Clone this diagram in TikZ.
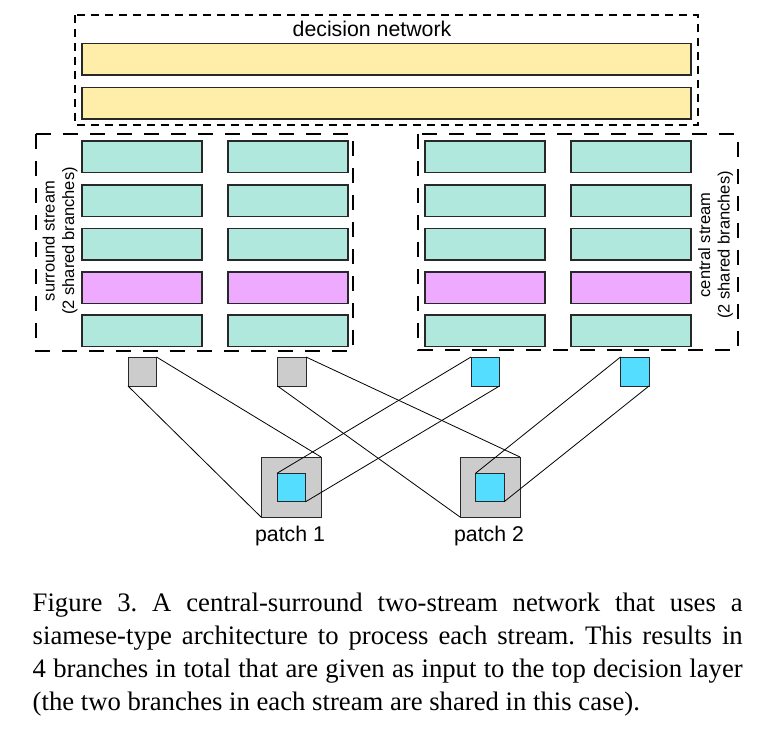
\documentclass[tikz,border=0pt]{standalone}
\usepackage{fontspec}
\setmainfont{Liberation Serif}
\newfontfamily\lsans{Liberation Sans}
\definecolor{ycol}{RGB}{255,238,170}
\definecolor{tcol}{RGB}{176,232,222}
\definecolor{pcol}{RGB}{238,170,255}
\definecolor{gcol}{RGB}{204,204,204}
\definecolor{ccol}{RGB}{85,221,255}
\definecolor{edge}{RGB}{40,40,40}
\begin{document}
\frenchspacing
\begin{tikzpicture}[x=1pt,y=-1pt,
  barbox/.style={draw=edge,line width=1.1pt,inner sep=0pt,outer sep=0pt,anchor=north west,minimum height=31.5pt},
  sqbox/.style={draw=edge,line width=1pt,inner sep=0pt,outer sep=0pt,anchor=north west},
  decbox/.style={draw=black,line width=1.2pt,dash pattern=on 8pt off 6pt},
  streambox/.style={draw=black,line width=2pt,dash pattern=on 15pt off 12pt},
  conn/.style={draw=black,line width=0.8pt},
  sanslabel/.style={font=\lsans\fontsize{21.3}{25}\selectfont,inner sep=0pt},
  sidelabel/.style={font=\lsans\fontsize{16.5}{19.5}\selectfont,rotate=90,align=center,inner sep=0pt},
  capline/.style={font=\fontsize{26.7}{33}\selectfont,inner sep=0pt,anchor=base west}]
\useasboundingbox (0,0) rectangle (774,739);
% decision network
\draw[decbox] (75,15) rectangle (698,125);
\node[sanslabel,anchor=base] (dl) at (372,36) {decision network};
\node[barbox,fill=ycol,minimum width=609pt] (d1) at (82,43.5) {};
\node[barbox,fill=ycol,minimum width=609pt] (d2) at (82,87.5) {};
% streams
\draw[streambox] (36,134) rectangle (353,351);
\draw[streambox] (418,134) rectangle (738,350);
\foreach \c/\x in {a/82,b/228,c/425,d/571}{
  \foreach \r/\y in {1/141,2/185,3/228.5,4/272,5/315}{
    \ifnum\r=4
      \node[barbox,fill=pcol,minimum width=120pt] (\c\r) at (\x,\y) {};
    \else
      \node[barbox,fill=tcol,minimum width=120pt] (\c\r) at (\x,\y) {};
    \fi
  }
}
\node[sidelabel] (sl) at (60,241) {surround stream\\(2 shared branches)};
\node[sidelabel] (cl) at (715.5,245) {central stream\\(2 shared branches)};
% input squares
\node[sqbox,fill=gcol,minimum width=28.5pt,minimum height=29pt] (g1) at (128,357) {};
\node[sqbox,fill=gcol,minimum width=28.5pt,minimum height=29pt] (g2) at (277.5,357) {};
\node[sqbox,fill=ccol,minimum width=28.5pt,minimum height=29pt] (c1) at (471,357) {};
\node[sqbox,fill=ccol,minimum width=28.5pt,minimum height=29pt] (c2) at (620.5,357) {};
% patches
\node[sqbox,fill=gcol,minimum width=60pt,minimum height=60pt] (p1) at (261,457) {};
\node[sqbox,fill=ccol,minimum width=28.5pt,minimum height=28.5pt] (i1) at (277,473.3) {};
\node[sqbox,fill=gcol,minimum width=60pt,minimum height=60pt] (p2) at (460,457) {};
\node[sqbox,fill=ccol,minimum width=28.5pt,minimum height=28.5pt] (i2) at (475.5,473.3) {};
\node[sanslabel,anchor=base] (pl1) at (290,541.7) {patch 1};
\node[sanslabel,anchor=base] (pl2) at (489,541.7) {patch 2};
% connectors
\draw[conn] (g1.north east) -- (p1.north east);
\draw[conn] (g1.south west) -- (p1.south west);
\draw[conn] (g2.north east) -- (p2.north east);
\draw[conn] (g2.south west) -- (p2.south west);
\draw[conn] (c1.north west) -- (i1.north west);
\draw[conn] (c1.south east) -- (i1.south east);
\draw[conn] (c2.north west) -- (i2.north west);
\draw[conn] (c2.south east) -- (i2.south east);
% caption
\node[capline] (cap1) at (32.5,611) {\makebox[710pt][s]{Figure 3. A central-surround two-stream network that uses a}};
\node[capline] (cap2) at (32.5,644.3) {\makebox[710pt][s]{siamese-type architecture to process each stream. This results in}};
\node[capline] (cap3) at (32.5,677.5) {\makebox[710pt][s]{4 branches in total that are given as input to the top decision layer}};
\node[capline] (cap4) at (32.5,710) {(the two branches in each stream are shared in this case).};
\end{tikzpicture}
\end{document}
